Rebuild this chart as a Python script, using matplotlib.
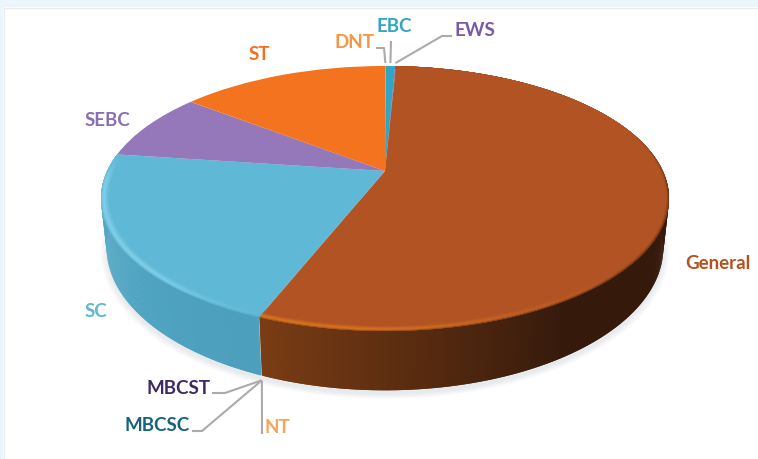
import matplotlib
matplotlib.use("Agg")
import matplotlib.pyplot as plt
from matplotlib.collections import PolyCollection
from matplotlib.transforms import Transform
import numpy as np

# shares, clockwise from the top
categories = ["DNT", "EBC", "EWS", "General", "NT", "MBCSC", "MBCST", "SC", "SEBC", "ST"]
shares = [0.05, 0.65, 0.05, 55.2, 0.01, 0.01, 0.01, 21.16, 8.4, 14.46]
colors = ["#F79646", "#31A5C4", "#7B58A6", "#B25323", "#F79646", "#17647A", "#3F2A66",
          "#5FB8D6", "#9478BA", "#F4731F"]
label_colors = ["#F79646", "#31A5C4", "#7B58A6", "#B5521F", "#F9A557", "#17647A", "#3F2A66",
                "#5FB8D6", "#8A6FB3", "#F37021"]
label_xy = [(354, 43), (394, 26), (475, 30), (718, 264), (277, 428), (157, 426), (178, 389),
            (96, 312), (107, 120), (259, 55)]

# perspective of the disc, in pixels
CX, CY = 385, 172
A, B, K = 277.8, 126.8, 0.2075
DEPTH = 47
BEVEL = 0.035


def project(u, v, drop=0.0):
    w = 1 + K * v
    # the wall narrows a little on its way down
    shrink = 1 - 0.02 * np.asarray(drop) / DEPTH
    return CX + A * u / w * shrink, CY - B * v / w + drop / w


class Perspective(Transform):
    input_dims = 2
    output_dims = 2

    def transform_non_affine(self, values):
        x, y = project(values[:, 0], values[:, 1])
        return np.column_stack((x, y))


def mix(c1, c2, t):
    c1 = np.array(matplotlib.colors.to_rgb(c1))
    c2 = np.array(matplotlib.colors.to_rgb(c2))
    return c1 + (c2 - c1) * t


def wall_color(name, a):
    # a is the angle clockwise from the top
    if name == "General":
        return mix("#351A0C", "#7A3C14", np.clip((a - 148) / 53, 0, 1))
    return mix("#4C9FBD", "#56AECB", np.clip((a - 205) / 70, 0, 1))


def bevel_color(name, a, s):
    # s runs 0-1 across the bevel, from the face out to the wall
    side = wall_color(name, a)
    if name == "General":
        top = "#B25323"
        hl = mix(top, "#DC7620", np.clip((a - 135) / 50, 0, 1))
        face = np.clip((a - 70) / 30, 0, 1)
    else:
        top = "#5FB8D6"
        hl = mix(top, "#84D2EB", np.clip((a - 201) / 25, 0, 1))
        face = np.clip((278 - a) / 12, 0, 1)
    if s < 0.55:
        return mix(top, hl, s / 0.55 * face)
    return mix(mix(top, hl, face), mix(top, side, face), (s - 0.55) / 0.45)


def band_quads(th, radius, drop):
    # quads run two steps along the rim so neighbours overlap and leave no seams
    x1, y1 = project(radius[0] * np.cos(th), radius[0] * np.sin(th), drop[0])
    x2, y2 = project(radius[1] * np.cos(th), radius[1] * np.sin(th), drop[1])
    quads = []
    for i in range(len(th) - 1):
        k = min(i + 2, len(th) - 1)
        quads.append([(x1[i], y1[i]), (x1[k], y1[k]), (x2[k], y2[k]), (x2[i], y2[i])])
    return quads


fig = plt.figure(figsize=(7.58, 4.6), dpi=100)
ax = fig.add_axes([0, 0, 1, 1])
fig.patch.set_facecolor("white")

wedges, _ = ax.pie(shares, colors=colors, startangle=90, counterclock=False, radius=1,
                   wedgeprops={"linewidth": 0})
ax.set_aspect("auto")
ax.set_xlim(0, 758)
ax.set_ylim(460, 0)
ax.axis("off")

# light page band along the top and left
ax.axhspan(0, 8, color="#EAF5FC", lw=0, zorder=0)
ax.axvspan(0, 3, color="#EAF5FC", lw=0, zorder=0)
ax.plot([3.5, 758], [8.5, 8.5], color="#EDEBEA", lw=1, zorder=0.5)
ax.plot([3.5, 3.5], [8.5, 460], color="#EDEBEA", lw=1, zorder=0.5)

# soft shadow under the disc
t = np.linspace(0, 2 * np.pi, 200)
for grow in np.linspace(1.022, 1.002, 6):
    sx, sy = project(grow * np.cos(t), grow * np.sin(t), DEPTH + 3)
    ax.fill(sx, sy, color="#8A9AA8", alpha=0.03, lw=0, zorder=1)

# wall and bevel of the two slices that face the viewer
bevel_s = np.linspace(0, 1, 9)
for name, wedge in zip(categories, wedges):
    if name not in ("General", "SC"):
        continue
    th = np.radians(np.linspace(wedge.theta1, wedge.theta2, 360))
    ang = (90 - np.degrees(th)) % 360

    quads = band_quads(th, (1, 1), (0, DEPTH))
    fc = [wall_color(name, a) for a in ang[:-1]]
    ax.add_collection(PolyCollection(quads, facecolors=fc, edgecolors="none", zorder=2),
                      autolim=False)

    quads = []
    fc = []
    for j in range(len(bevel_s) - 2, -1, -1):
        r0 = 1 - BEVEL * (1 - bevel_s[j])
        r1 = 1 - BEVEL * (1 - bevel_s[min(j + 2, len(bevel_s) - 1)])
        quads += band_quads(th, (r0, r1), (0, 0))
        fc += [bevel_color(name, a, bevel_s[j]) for a in ang[:-1]]
    ax.add_collection(PolyCollection(quads, facecolors=fc, edgecolors="none", zorder=3),
                      autolim=False)

# top face goes through the same perspective
for wedge in wedges:
    wedge.set_transform(Perspective() + ax.transData)
    wedge.set_zorder(2.5)

# leader lines, from the slice rim out to the label
leaders = {
    "DNT": [(376, 49), (384, 49)],
    "EBC": [(391, 42)],
    "EWS": [(452, 37), (442, 37)],
    "MBCST": [(212, 394), (225, 394)],
    "MBCSC": [(192, 432), (202, 432)],
    "NT": [(262, 435)],
}
for name, pts in leaders.items():
    wedge = wedges[categories.index(name)]
    mid = np.radians((wedge.theta1 + wedge.theta2) / 2)
    if np.sin(mid) > 0:
        mx, my = project(np.cos(mid), np.sin(mid))
        my -= 3
    else:
        mx, my = project(np.cos(mid), np.sin(mid), DEPTH + 4)
    xs = [p[0] for p in pts] + [mx]
    ys = [p[1] for p in pts] + [my]
    ax.plot(xs, ys, color="#ABABAB", lw=1.5, zorder=4, solid_capstyle="butt")

for name, col, (lx, ly) in zip(categories, label_colors, label_xy):
    ax.text(lx, ly, name, color=col, fontsize=13.5, family="Lato", fontweight="bold",
            ha="center", va="center", zorder=5)

fig.savefig("out.png", dpi=100)
